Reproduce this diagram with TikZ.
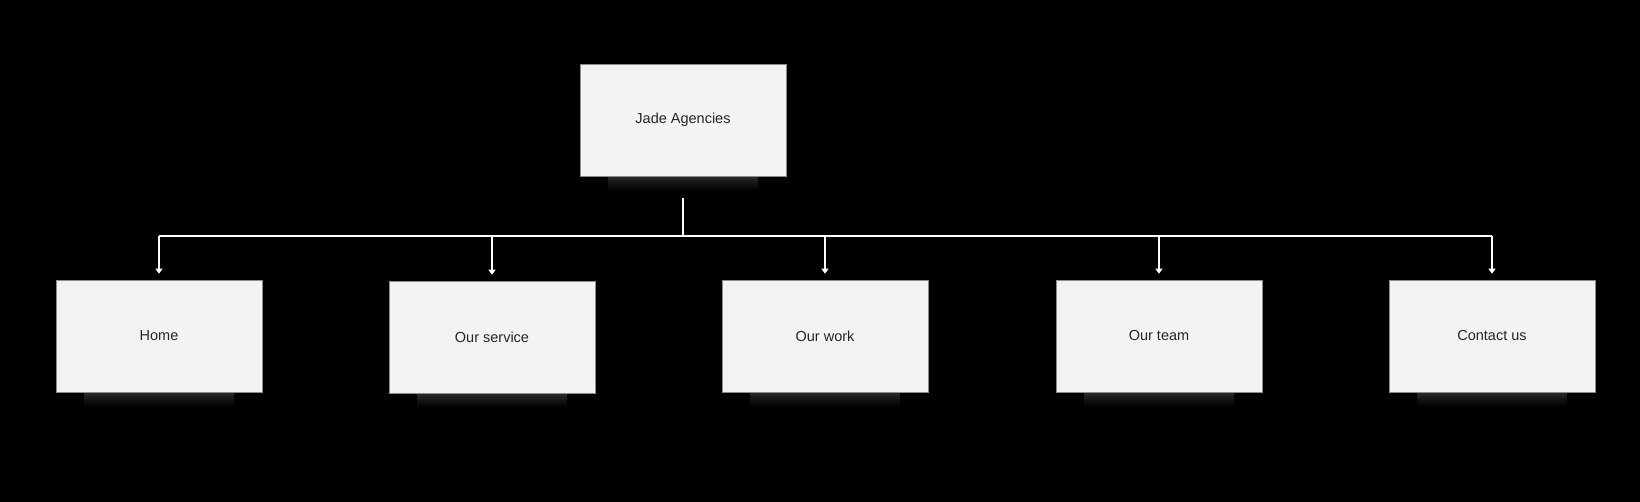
\documentclass[tikz,border=0pt]{standalone}
\usepackage{fontspec}
\setmainfont{Liberation Sans}
\usetikzlibrary{arrows.meta}
\definecolor{boxfill}{HTML}{F2F3F5}
\definecolor{boxline}{HTML}{8A8C90}
\definecolor{shade}{HTML}{2A2A2A}
\begin{document}
\begin{tikzpicture}[x=1pt,y=-1pt,
  card/.style={draw=boxline,line width=0.6pt,fill=boxfill,minimum width=206pt,minimum height=112pt,
    inner sep=0pt,font=\fontsize{14.5}{16}\selectfont,text=black!85},
  link/.style={draw=white,line width=2.2pt},
  linkarrow/.style={link,-{Triangle[width=7pt,length=5pt]}}]
\useasboundingbox (0,0) rectangle (1640,502);
\fill[black] (0,0) rectangle (1640,502);
% soft shadows
\foreach \cx/\cy in {683/120,159/336,492/337,825/336,1159/336,1492/336}{
  \shade[top color=shade,bottom color=black] (\cx-75,\cy+56) rectangle (\cx+75,\cy+70);
}
\node[card] (top) at (683,120) {Jade Agencies};
\node[card] (home) at (159,336) {Home};
\node[card] (serv) at (492,337) {Our service};
\node[card] (work) at (825,336) {Our work};
\node[card] (team) at (1159,336) {Our team};
\node[card] (cont) at (1492,336) {Contact us};
\coordinate (stem) at (683,198);
\coordinate (bar) at (683,236);
\draw[link] (stem) -- (bar);
\draw[link] (home.north |- bar) -- (cont.north |- bar);
\foreach \n in {home,serv,work,team,cont}{
  \draw[linkarrow] (\n.north |- bar) -- ([yshift=6pt]\n.north);
}
\end{tikzpicture}
\end{document}
